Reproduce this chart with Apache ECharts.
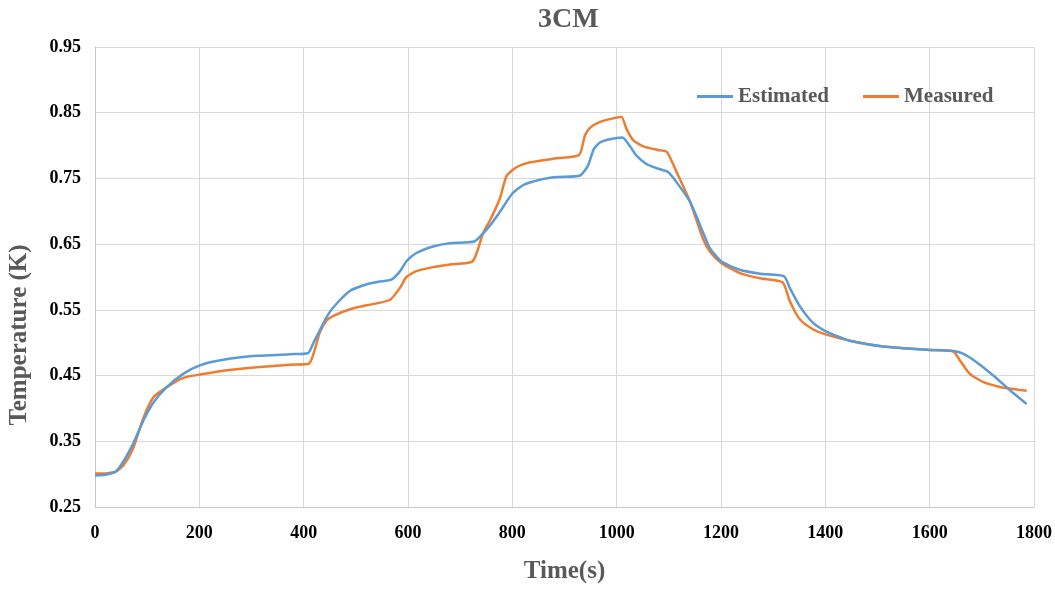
<!DOCTYPE html>
<html>
<head>
<meta charset="utf-8">
<script src="https://cdn.jsdelivr.net/npm/echarts@6/dist/echarts.min.js"></script>
<style>
  html, body { margin: 0; padding: 0; background: #fff; }
  #chart { width: 1055px; height: 589px; }
</style>
</head>
<body>
<div id="chart"></div>
<script>
// values
var estTime = [0, 20, 40, 55, 73, 93, 112, 137, 169, 201, 246, 310, 374, 408, 420, 431, 444, 457, 489, 521, 545, 568,
  585, 597, 616, 648, 680, 727, 744, 757, 776, 800, 821, 853, 885, 930, 945, 956, 968, 987, 1011, 1025, 1038, 1057,
  1077, 1099, 1115, 1141, 1166, 1179, 1201, 1236, 1275, 1321, 1332, 1351, 1376, 1399, 1447, 1511, 1601, 1648, 1665,
  1690, 1722, 1754, 1786];
var estTemp = [0.298, 0.299, 0.304, 0.320, 0.346, 0.382, 0.409, 0.432, 0.4526, 0.4656, 0.474, 0.480, 0.4825, 0.484,
  0.502, 0.519, 0.539, 0.554, 0.579, 0.589, 0.593, 0.596, 0.609, 0.624, 0.6365, 0.6465, 0.6515, 0.654, 0.6665, 0.678,
  0.699, 0.727, 0.740, 0.748, 0.752, 0.7545, 0.7695, 0.7946, 0.8047, 0.8097, 0.8122, 0.7997, 0.7846, 0.772, 0.7655,
  0.7595, 0.744, 0.714, 0.667, 0.6435, 0.6235, 0.611, 0.605, 0.601, 0.583, 0.5557, 0.5306, 0.518, 0.503, 0.4944,
  0.489, 0.487, 0.483, 0.4703, 0.450, 0.4277, 0.4067];

var measTime = [0, 20, 40, 55, 73, 93, 112, 137, 169, 201, 246, 310, 374, 410, 431, 444, 457, 489, 521, 565, 585, 597,
  616, 648, 680, 724, 744, 757, 776, 789, 808, 834, 885, 928, 939, 949, 968, 993, 1009, 1019, 1032, 1051, 1077, 1096,
  1115, 1141, 1166, 1179, 1201, 1236, 1275, 1318, 1332, 1351, 1376, 1399, 1447, 1511, 1601, 1645, 1658, 1677, 1703,
  1735, 1767, 1786];
var measTemp = [0.301, 0.301, 0.304, 0.314, 0.339, 0.386, 0.417, 0.432, 0.4466, 0.4515, 0.4575, 0.4626, 0.4666, 0.468,
  0.516, 0.534, 0.541, 0.551, 0.557, 0.565, 0.584, 0.600, 0.609, 0.615, 0.619, 0.624, 0.667, 0.686, 0.719, 0.754,
  0.767, 0.7745, 0.7806, 0.7856, 0.815, 0.827, 0.836, 0.8414, 0.844, 0.825, 0.808, 0.7987, 0.7936, 0.7906, 0.7595,
  0.714, 0.657, 0.6386, 0.621, 0.606, 0.598, 0.592, 0.563, 0.5356, 0.5205, 0.513, 0.503, 0.4944, 0.489, 0.487,
  0.473, 0.4527, 0.440, 0.4327, 0.4287, 0.4268];

var seriesNames = ['Estimated', 'Measured'];

function pairs(xs, ys) {
  return xs.map(function (x, i) { return [x, ys[i]]; });
}

var serif = '"Liberation Serif", "Times New Roman", serif';
var chart = echarts.init(document.getElementById('chart'));

var option = {
  animation: false,
  color: ['#5B9BD5', '#ED7D31'],
  title: {
    text: '3CM',
    left: 533,
    top: 1,
    textStyle: { fontFamily: serif, fontWeight: 'bold', fontSize: 28, color: '#595959' }
  },
  legend: {
    data: [
      { name: seriesNames[0], icon: 'rect' },
      { name: seriesNames[1], icon: 'rect' }
    ],
    left: 697,
    top: 86,
    padding: 0,
    itemWidth: 36,
    itemHeight: 3,
    itemGap: 34,
    textStyle: { fontFamily: serif, fontWeight: 'bold', fontSize: 21, color: '#595959' }
  },
  grid: { left: 95, right: 21, top: 47, bottom: 78 },
  xAxis: {
    type: 'value',
    min: 0,
    max: 1800,
    interval: 200,
    name: 'Time(s)',
    nameLocation: 'middle',
    nameGap: 52,
    nameTextStyle: { fontFamily: serif, fontWeight: 'bold', fontSize: 25, color: '#595959' },
    axisLine: { lineStyle: { color: '#c8c8c8', width: 1 } },
    axisTick: { show: false },
    axisLabel: {
      margin: 17, fontFamily: serif, fontWeight: 'bold', fontSize: 18, color: '#000',
      formatter: function (v) { return String(v); }
    },
    splitLine: { lineStyle: { color: '#d9d9d9', width: 1 } }
  },
  yAxis: {
    type: 'value',
    min: 0.25,
    max: 0.95,
    interval: 0.1,
    axisLine: { show: true, lineStyle: { color: '#c8c8c8', width: 1 } },
    axisTick: { show: false },
    axisLabel: {
      margin: 14, fontFamily: serif, fontWeight: 'bold', fontSize: 18, color: '#000',
      formatter: function (v) { return v.toFixed(2); }
    },
    splitLine: { lineStyle: { color: '#d9d9d9', width: 1 } }
  },
  graphic: [{
    type: 'text',
    x: 20,
    y: 335,
    rotation: Math.PI / 2,
    style: {
      text: 'Temperature (K)',
      align: 'center',
      verticalAlign: 'middle',
      font: 'bold 25px ' + serif,
      fill: '#595959'
    }
  }],
  series: [
    {
      name: seriesNames[0],
      type: 'line',
      data: pairs(estTime, estTemp),
      showSymbol: false,
      symbol: 'none',
      smooth: 0.2,
      lineStyle: { width: 2.5 },
      z: 3
    },
    {
      name: seriesNames[1],
      type: 'line',
      data: pairs(measTime, measTemp),
      showSymbol: false,
      symbol: 'none',
      smooth: 0.2,
      lineStyle: { width: 2.5 },
      z: 2
    }
  ]
};

chart.setOption(option);
</script>
</body>
</html>
